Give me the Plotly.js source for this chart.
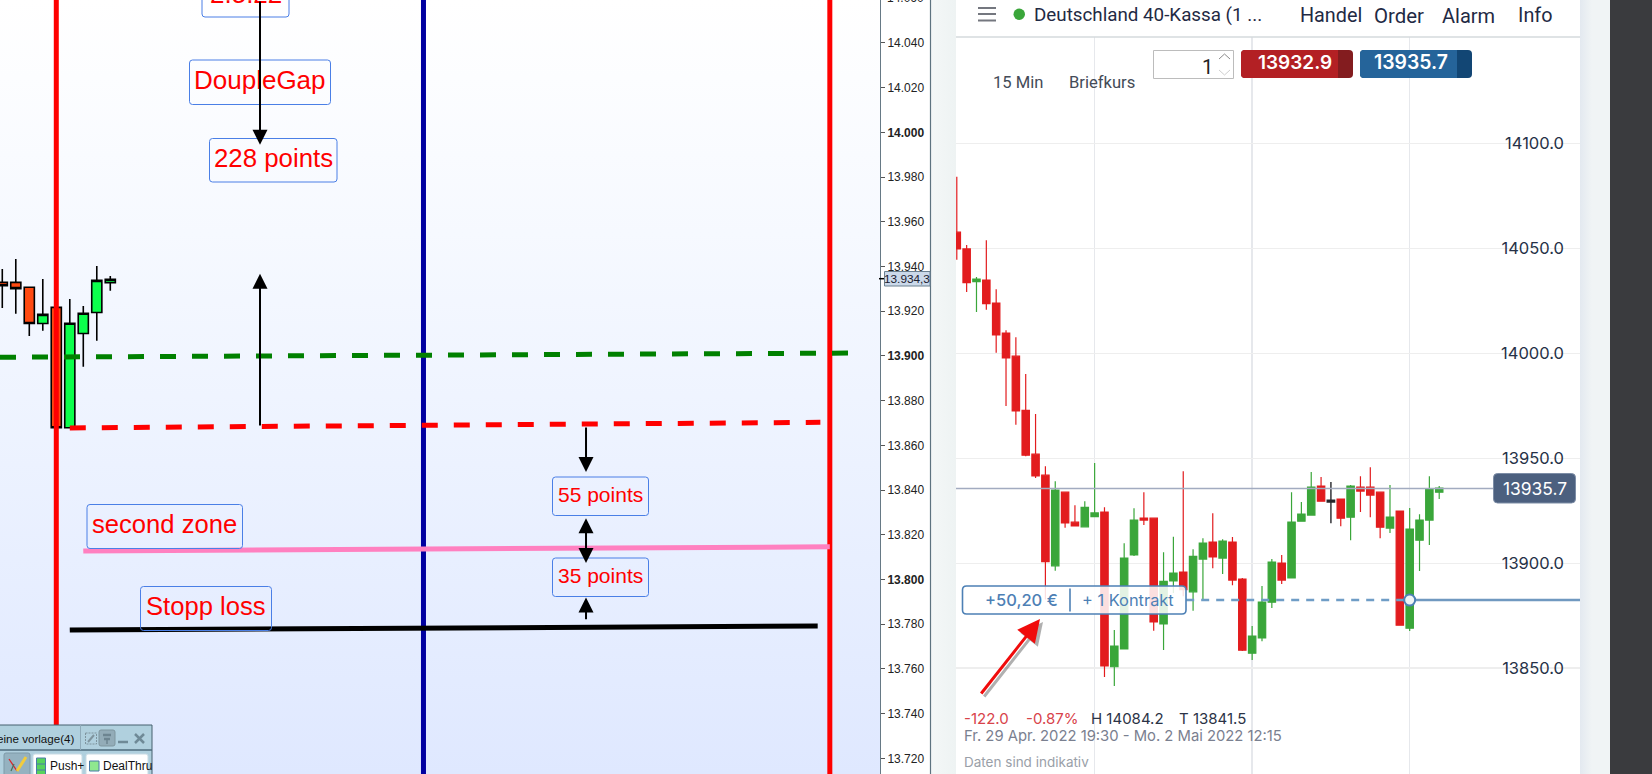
<!DOCTYPE html>
<html><head><meta charset="utf-8">
<script src="https://cdn.plot.ly/plotly-3.0.1.min.js"></script>
<style>
html,body{margin:0;padding:0;background:#fff;overflow:hidden}
#wrap{position:relative;width:1652px;height:774px;overflow:hidden}
.bg{position:absolute;top:0;bottom:0}
#chart{position:absolute;left:0;top:0}
</style></head><body>
<div id="wrap">
<div class="bg" style="left:0;width:880px;background:linear-gradient(#ffffff,#f6f9ff 30%,#ecf2ff 60%,#dfe8ff)"></div>
<div class="bg" style="left:880px;width:51px;background:#fff"></div>
<div class="bg" style="left:931px;width:25px;background:linear-gradient(90deg,#f4f7f7,#eef3f3)"></div>
<div class="bg" style="left:956px;width:624px;background:#fff"></div>
<div class="bg" style="left:1580px;width:30px;background:linear-gradient(90deg,#e3e9f0,#f0f4f5 40%)"></div>
<div class="bg" style="left:1610px;width:42px;background:#3a3b3e"></div>
<div id="chart"></div>
</div>
<script>
// ---------- left chart data (platform screenshot) ----------
const leftX     = [0,1,2,3,4,5,6,7,8];
const leftOpen  = [13932.9,13932.9,13930.7,13914.5,13921.7,13867.9,13910.0,13919.4,13932.8];
const leftHigh  = [13938.9,13943.4,13930.7,13934.4,13921.7,13925.5,13922.3,13940.2,13935.8];
const leftLow   = [13921.4,13918.9,13908.9,13911.3,13867.9,13867.9,13895.2,13906.8,13929.2];
const leftClose = [13931.4,13930.1,13914.5,13918.6,13867.9,13914.6,13919.1,13933.8,13934.3];
const leftTickVals = [13720,13740,13760,13780,13800,13820,13840,13860,13880,13900,13920,13940,13960,13980,14000,14020,14040];
const leftTickText = ['13.720','13.740','13.760','13.780','<b>13.800</b>','13.820','13.840','13.860','13.880','<b>13.900</b>','13.920','13.940','13.960','13.980','<b>14.000</b>','14.020','14.040'];
const leftYRange = [13713.0,14059.2];
const leftVerticals = [{x:4,c:'#ff0000'},{x:31.2,c:'#0000a0'},{x:61.3,c:'#ff0000'}];
const greenLevelX = [-0.17,63.5], greenLevelY = [13899.4,13901.3];
const redLevelX   = [5.0,60.6],   redLevelY   = [13867.8,13870.3];
const pinkLevelX  = [6.0,61.3],   pinkLevelY  = [13812.8,13814.6];
const blackLevelX = [5.0,60.4],   blackLevelY = [13777.4,13779.2];

// ---------- right chart data (CFD panel) ----------
const rightOpen  = [14057.8,14049.8,14034.2,14035.0,14024.0,14009.7,13998.7,13972.9,13952.0,13942.0,13898.8,13933.9,13919.6,13917.4,13922.2,13924.4,13850.7,13859.2,13904.0,13921.5,13921.5,13871.1,13891.6,13895.8,13886.4,13902.0,13910.1,13902.5,13910.1,13892.5,13857.2,13864.4,13881.5,13900.1,13893.0,13920.1,13923.0,13936.8,13930.1,13930.6,13922.0,13936.3,13936.3,13933.9,13916.8,13924.9,13869.1,13911.0,13920.6,13933.9];
const rightHigh  = [14084.2,14051.7,14036.4,14054.0,14030.6,14011.1,14007.7,13990.2,13971.2,13946.2,13939.1,13933.9,13927.7,13929.6,13947.8,13926.7,13868.2,13909.6,13926.2,13933.9,13921.5,13905.3,13912.6,13943.9,13906.7,13912.0,13923.9,13911.5,13912.5,13893.0,13870.1,13889.2,13902.0,13903.9,13933.9,13929.2,13943.5,13941.1,13938.7,13930.6,13937.3,13941.5,13945.8,13933.9,13937.3,13924.9,13926.3,13923.4,13941.5,13936.8];
const rightLow   = [14044.6,14029.3,14019.8,14020.8,14000.3,13975.0,13966.0,13951.0,13940.7,13882.7,13896.4,13916.9,13917.8,13917.4,13922.2,13845.8,13841.5,13859.2,13903.5,13918.3,13867.9,13858.7,13885.9,13884.3,13877.4,13882.5,13897.7,13894.9,13889.6,13858.2,13853.9,13862.9,13878.7,13890.1,13893.0,13920.1,13923.0,13929.6,13919.1,13917.7,13911.0,13924.4,13922.0,13912.0,13914.4,13870.5,13867.7,13896.3,13908.7,13930.6];
const rightClose = [14049.8,14033.7,14035.4,14023.7,14008.9,13997.9,13972.6,13951.5,13941.7,13900.8,13934.9,13919.3,13917.8,13926.7,13924.0,13851.1,13860.5,13902.5,13920.6,13920.6,13872.1,13891.4,13895.3,13887.5,13903.3,13909.6,13903.0,13910.6,13892.0,13858.6,13865.3,13881.5,13900.6,13892.0,13919.6,13923.5,13936.3,13929.6,13929.2,13921.5,13936.8,13934.4,13932.5,13917.2,13922.0,13870.5,13916.3,13920.6,13935.4,13935.8];
const dojiIndex = 38;
const rightX = rightOpen.map((_, i) => i);
const rightTickVals = [13850,13900,13950,14000,14050,14100];
const rightTickText = ['13850.0','13900.0','13950.0','14000.0','14050.0','14100.0'];
const rightGridX = [14,30,46,62];
const rightYRange = [13799.6,14150.8];
const askPrice = 13935.7;
const entryPrice = 13882.5;
const entryIndex = 46;

const W = 1652, H = 774;
const px = x => x / W, py = y => 1 - y / H;
const skip = (a) => a.filter((_, i) => i !== dojiIndex);

// ---------- helpers for page furniture ----------
const shapes = [], notes = [];
function rect(x0, y0, x1, y1, fill, line, layer, lw) {
  shapes.push({type:'rect',xref:'paper',yref:'paper',x0:px(x0),x1:px(x1),y0:py(y0),y1:py(y1),
    fillcolor:fill||'rgba(0,0,0,0)',line:{color:line||'rgba(0,0,0,0)',width:line?(lw||1):0},layer:layer||'above'});
}
function rrect(x0, y0, x1, y1, r, fill, line, lw) {
  const P = (x, y) => px(x) + ',' + py(y);
  const path = 'M' + P(x0+r,y0) + ' L' + P(x1-r,y0) + ' Q' + P(x1,y0) + ' ' + P(x1,y0+r) +
    ' L' + P(x1,y1-r) + ' Q' + P(x1,y1) + ' ' + P(x1-r,y1) + ' L' + P(x0+r,y1) +
    ' Q' + P(x0,y1) + ' ' + P(x0,y1-r) + ' L' + P(x0,y0+r) + ' Q' + P(x0,y0) + ' ' + P(x0+r,y0) + ' Z';
  shapes.push({type:'path',xref:'paper',yref:'paper',path,fillcolor:fill||'rgba(0,0,0,0)',
    line:{color:line||'rgba(0,0,0,0)',width:line?(lw||1):0},layer:'above'});
}
function seg(pts, color, width) {
  const path = pts.map((p, i) => (i ? 'L' : 'M') + px(p[0]) + ',' + py(p[1])).join(' ');
  shapes.push({type:'path',xref:'paper',yref:'paper',path,line:{color,width:width||1},layer:'above'});
}
function txt(x, y, text, size, color, family, anchor, weight) {
  notes.push({xref:'paper',yref:'paper',x:px(x),y:py(y),text,showarrow:false,xanchor:anchor||'left',yanchor:'middle',
    font:{size,color,family:family||'Inter',weight:weight||400},borderpad:0,borderwidth:0});
}
function boxLabel(x0, y0, x1, y1, text, size) {
  rrect(x0, y0, x1, y1, 3, null, '#4a7fe6', 1);
  txt((x0+x1)/2, (y0+y1)/2 - 2.2, text, size, '#ff0000', 'Liberation Sans', 'center');
}
function arrow(x0, y0, x1, y1, both) {
  notes.push({xref:'x',yref:'y',axref:'x',ayref:'y',x:x1,y:y1,ax:x0,ay:y0,text:'',showarrow:true,
    arrowhead:2,arrowsize:1.5,arrowwidth:2,arrowcolor:'#000',arrowside:both?'end+start':'end',
    startarrowhead:2,startarrowsize:1.5,standoff:0,startstandoff:0});
}

// ---------- left chart furniture ----------
boxLabel(202,-24,289,17,'2.5.22',26);
boxLabel(189.5,60,330.5,104.5,'DoupleGap',26);
boxLabel(209.5,138.5,337,182,'228 points',25.8);
boxLabel(87,504.5,242.5,548.5,'second zone',25.6);
boxLabel(140.5,586.5,271.5,630.5,'Stopp loss',25.6);
boxLabel(552.5,477,648.5,515.5,'55 points',21);
boxLabel(552.5,558,648.5,596.5,'35 points',21);

arrow(19.09,14059.2,19.09,13994.4);
arrow(19.09,13868.2,19.09,13936.7);
arrow(43.24,13868.7,43.24,13848.1);
arrow(43.24,13828.1,43.24,13807.4,true);
arrow(43.24,13781.6,43.24,13791.9);

txt(887,-2,'14.060',12,'#222','Liberation Sans');
seg([[930.5,0],[930.5,774]],'#5e7380',1.2);
// current-price tag of the platform axis
seg([[879,278.7],[884,278.7]],'#000',1.5);
rect(884.5,271.5,930,286,'#cbd9ea','#6b8090',1.2);
txt(907,279,'13.934,3',11.8,'#1a2030','Liberation Sans','center');

// bottom-left tool window
rect(-2,725,152,776,'#b0d0de','#46606f',1.5);
seg([[0,750],[152,750]],'#4f6d7d',1.3);
seg([[80.5,725],[80.5,750]],'#8fabba',1);
txt(74,738,'eine vorlage(4)',11.6,'#111','Liberation Sans','right');
shapes.push({type:'rect',xref:'paper',yref:'paper',x0:px(85.5),x1:px(96.5),y0:py(733),y1:py(744),fillcolor:'rgba(0,0,0,0)',line:{color:'#7f949e',width:1,dash:'2px,1px'},layer:'above'});
seg([[88,742],[94,735]],'#7f949e',2);
rrect(99,730,115,746,2,'#93acb8','#7f969f',1);
seg([[103,735],[111,735]],'#6d8591',2.5);
seg([[104,739],[110,739]],'#6d8591',2.5);
seg([[107,739],[107,744]],'#6d8591',1.5);
seg([[118,742],[128,742]],'#6f8a97',2.5);
seg([[135,734],[144,743]],'#6f8a97',2.5);
seg([[144,734],[135,743]],'#6f8a97',2.5);
rrect(4,753,30,776,2,'#95b2c0','#7e9aa8',1);
seg([[9,759],[17,771]],'#d9262a',1.3);
seg([[17,771],[26,757]],'#f2cc3c',3);
seg([[11,771],[14,764]],'#48705a',1.2);
rrect(33,754,82,776,2,'#fff','#c9dbe4',1);
rect(36.5,758,45.5,776,'#56d35c','#4a7aa8',1);
seg([[36.5,764],[45.5,764]],'#4a7aa8',1);
seg([[36.5,770],[45.5,770]],'#4a7aa8',1);
txt(50,766,'Push+',12,'#111','Liberation Sans');
rrect(86,754,148,776,2,'#fff','#c9dbe4',1);
rect(89.5,761,99,771,'#8fe88f','#4a7aa8',1);
txt(103,766,'DealThru',12,'#111','Liberation Sans');

// ---------- right panel furniture ----------
seg([[956,37],[1580,37]],'#d4dadd',1.3);
seg([[978,8],[996,8]],'#74777f',2);
seg([[978,14],[996,14]],'#74777f',2);
seg([[978,20.5],[996,20.5]],'#74777f',2);
shapes.push({type:'circle',xref:'paper',yref:'paper',x0:px(1013.5),x1:px(1025),y0:py(8.5),y1:py(20),fillcolor:'#3aa63a',line:{width:0},layer:'above'});
txt(1034,15,'Deutschland 40-Kassa (1 ...',18.8,'#1f2a44','Roboto');
txt(1300,16,'Handel',19.8,'#1f2a44','Roboto');
txt(1374,16,'Order',20.4,'#1f2a44','Roboto');
txt(1442,16,'Alarm',20,'#1f2a44','Roboto');
txt(1518,16,'Info',19.8,'#1f2a44','Roboto');
txt(993,82,'15 Min',16.6,'#444b57','Roboto');
txt(1069,82,'Briefkurs',16.6,'#444b57','Roboto');
// quantity box
rect(1153.5,50.5,1233.5,78.5,'#fff','#bcbcbc',1.2);
txt(1213,67,'1',20,'#222','Roboto','right');
seg([[1219,59],[1224.5,54],[1230,59]],'#8a8a8a',1);
seg([[1219,70],[1224.5,75],[1230,70]],'#cfcfcf',1);
// bid / ask buttons
rrect(1241,50,1353,78,4,'#831c1f');
rrect(1241,50,1342,78,4,'#b32024');
rect(1338,50,1342,78,'#831c1f');
txt(1294.5,62.5,'13932.9',19,'#fff','Inter','center',600);
rrect(1360,50,1472,78,4,'#124674');
rrect(1360,50,1461,78,4,'#25649a');
rect(1457,50,1461,78,'#124674');
txt(1411,62.5,'13935.7',19.4,'#fff','Inter','center',600);
// ask tag
rrect(1493.5,473.5,1575.5,503,4,'#4c607f','#7d8da6',1);
txt(1534.5,488.5,'13935.7',17.4,'#fff','Inter','center');
// profit label
rrect(962.5,586,1186,614,4,'rgba(255,255,255,0.86)','#4d80b5',1.6);
txt(985,600,'+50,20 €',16.5,'#4d80b5','Inter','left',500);
seg([[1070,588.5],[1070,611.5]],'#4d80b5',1.6);
txt(1082,600,'+ 1 Kontrakt',16.4,'#4d80b5','Inter');
// red pointer with its shadow
notes.push({xref:'paper',yref:'paper',axref:'pixel',ayref:'pixel',x:px(1043),y:py(622),ax:-60,ay:76,text:'',showarrow:true,
  arrowhead:2,arrowsize:1.5,arrowwidth:3,arrowcolor:'rgba(60,60,60,0.4)',standoff:0});
notes.push({xref:'paper',yref:'paper',axref:'pixel',ayref:'pixel',x:px(1040),y:py(619),ax:-60,ay:76,text:'',showarrow:true,
  arrowhead:2,arrowsize:1.5,arrowwidth:3,arrowcolor:'#f00c0c',standoff:0});
// footer text
txt(964,718,'-122.0',15,'#d8434a');
txt(1026,718,'-0.87%',15,'#d8434a');
txt(1091,718,'H 14084.2',15,'#2b3346');
txt(1179,718,'T 13841.5',15,'#2b3346');
txt(964,736,'Fr. 29 Apr. 2022 19:30 - Mo. 2 Mai 2022 12:15',14.8,'#7a8090');
txt(964,762,'Daten sind indikativ',13.5,'#9aa0a8');

// ---------- traces ----------
const traces = [
 {type:'candlestick',xaxis:'x',yaxis:'y',x:leftX,open:leftOpen,high:leftHigh,low:leftLow,close:leftClose,
  increasing:{line:{color:'#000',width:1.6},fillcolor:'#0cff4c'},
  decreasing:{line:{color:'#000',width:1.6},fillcolor:'#ff4a12'},showlegend:false},
 {type:'candlestick',xaxis:'x2',yaxis:'y2',x:skip(rightX),open:skip(rightOpen),high:skip(rightHigh),low:skip(rightLow),close:skip(rightClose),
  increasing:{line:{color:'#3aa63a',width:1.2},fillcolor:'#3aa63a'},
  decreasing:{line:{color:'#e21c1e',width:1.2},fillcolor:'#e21c1e'},showlegend:false},
 {type:'candlestick',xaxis:'x2',yaxis:'y2',x:[rightX[dojiIndex]],open:[rightOpen[dojiIndex]],high:[rightHigh[dojiIndex]],low:[rightLow[dojiIndex]],close:[rightClose[dojiIndex]],
  increasing:{line:{color:'#26262b',width:1.4},fillcolor:'#26262b'},
  decreasing:{line:{color:'#26262b',width:1.4},fillcolor:'#26262b'},showlegend:false}
];
const line = (xa, ya, x, y, color, width, dash) => traces.push({type:'scatter',mode:'lines',xaxis:xa,yaxis:ya,x,y,
  line:{color,width,dash:dash||'solid'},showlegend:false,hoverinfo:'skip'});
leftVerticals.forEach(v => line('x','y',[v.x,v.x],leftYRange,v.c,5));
line('x','y',greenLevelX,greenLevelY,'#008000',5,'16px,16px');
line('x','y',redLevelX,redLevelY,'#ff0000',5,'16px,16px');
line('x','y',pinkLevelX,pinkLevelY,'#ff80c0',5);
line('x','y',blackLevelX,blackLevelY,'#000',5);
line('x2','y2',[-0.081,54.46],[askPrice,askPrice],'#a2abc0',1.5);
line('x2','y2',[23.3,entryIndex],[entryPrice,entryPrice],'#6f9dc6',2.5,'8px,7px');
line('x2','y2',[entryIndex,63.3],[entryPrice,entryPrice],'#7099c0',2.5);
traces.push({type:'scatter',mode:'markers',xaxis:'x2',yaxis:'y2',x:[entryIndex],y:[entryPrice],
  marker:{size:11,color:'#eef4f5',line:{color:'#4d80b5',width:2}},showlegend:false,hoverinfo:'skip'});

const layout = {
  width:W,height:H,margin:{l:0,r:0,t:0,b:0,pad:0},autosize:false,
  paper_bgcolor:'rgba(0,0,0,0)',plot_bgcolor:'rgba(0,0,0,0)',showlegend:false,boxgap:0.25,boxgroupgap:0,
  xaxis:{domain:[0,879.5/W],range:[-0.17,64.98],visible:false,rangeslider:{visible:false},fixedrange:true},
  yaxis:{domain:[0,1],range:leftYRange,side:'right',anchor:'x',showgrid:false,zeroline:false,showline:true,linecolor:'#667985',linewidth:1.5,
    ticks:'outside',ticklen:4,tickcolor:'#555',tickwidth:1,tickmode:'array',tickvals:leftTickVals,ticktext:leftTickText,
    tickfont:{family:'Liberation Sans',size:12,color:'#222'},fixedrange:true},
  xaxis2:{domain:[956/W,1580/W],range:[-0.081,63.3],anchor:'y2',rangeslider:{visible:false},showticklabels:false,ticks:'',
    tickmode:'array',tickvals:rightGridX,showgrid:true,gridcolor:'#e6e8ec',gridwidth:1.5,zeroline:false,showline:false,fixedrange:true},
  yaxis2:{domain:[0,1-37/H],range:rightYRange,anchor:'x2',side:'right',ticklabelposition:'inside',ticks:'',ticklabelstandoff:13,
    tickmode:'array',tickvals:rightTickVals,ticktext:rightTickText,showgrid:true,gridcolor:'#eeeeee',gridwidth:1.5,zeroline:false,showline:false,
    tickfont:{family:'Inter',size:16.5,color:'#263147'},fixedrange:true},
  shapes,annotations:notes
};
Plotly.newPlot('chart',traces,layout,{displayModeBar:false,staticPlot:true});
</script>
</body></html>
